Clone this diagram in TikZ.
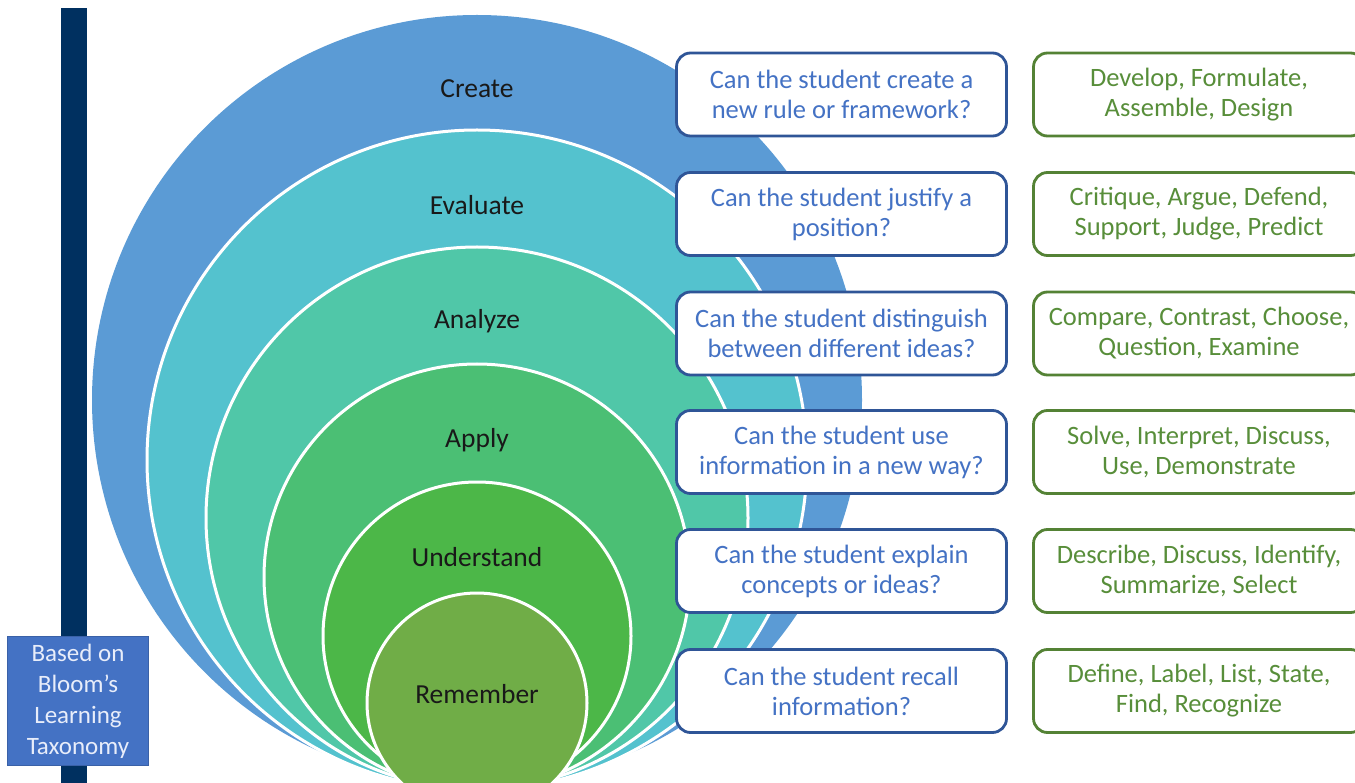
\documentclass[tikz,border=0pt]{standalone}
\usepackage{fontspec}
\setmainfont{Carlito}
\definecolor{navy}{RGB}{0,48,96}
\definecolor{createC}{RGB}{91,155,213}
\definecolor{evalC}{RGB}{84,194,206}
\definecolor{analyzeC}{RGB}{80,199,168}
\definecolor{applyC}{RGB}{75,191,116}
\definecolor{underC}{RGB}{76,183,72}
\definecolor{rememC}{RGB}{112,173,71}
\definecolor{qborder}{RGB}{47,85,151}
\definecolor{qtext}{RGB}{68,114,196}
\definecolor{vborder}{RGB}{84,130,53}
\definecolor{vtext}{RGB}{88,142,58}
\definecolor{basefill}{RGB}{68,114,196}
\definecolor{basetext}{RGB}{232,237,250}
\begin{document}
\begin{tikzpicture}[x=1pt,y=-1pt,
  ring/.style={draw=white,line width=3pt},
  lvl/.style={text=black!90,font=\fontsize{27.5}{32}\selectfont,inner sep=0pt},
  qbox/.style={draw=qborder,fill=white,line width=2.8pt,rounded corners=14pt,
    minimum width=330pt,minimum height=83pt,align=center,text=qtext,
    font=\fontsize{26.5}{30}\selectfont,inner sep=0pt},
  vbox/.style={draw=vborder,fill=white,line width=2.8pt,rounded corners=14pt,
    minimum width=331pt,minimum height=83pt,align=center,text=vtext,
    font=\fontsize{26.5}{30}\selectfont,inner sep=0pt},
  basebox/.style={draw=basefill!85!black,fill=basefill,line width=0.6pt,
    minimum width=141pt,minimum height=129pt,align=center,text=basetext,
    font=\fontsize{25}{31}\selectfont,inner sep=0pt}]
\useasboundingbox (0,0) rectangle (1355,783);
\clip (0,0) rectangle (1355,783);
% vertical bar
\fill[navy] (61,8) rectangle (87,790);
% nested circles
\fill[createC] (477,400) circle[radius=385];
\filldraw[fill=evalC,ring] (477,460) circle[radius=330];
\filldraw[fill=analyzeC,ring] (477,518) circle[radius=271];
\filldraw[fill=applyC,ring] (477,577) circle[radius=213];
\filldraw[fill=underC,ring] (477,636) circle[radius=154];
\filldraw[fill=rememC,ring] (477,703) circle[radius=110];
% level labels
\node[lvl] (l1) at (477,89) {Create};
\node[lvl] (l2) at (477,205) {Evaluate};
\node[lvl] (l3) at (477,321) {Analyze};
\node[lvl] (l4) at (477,440) {Apply};
\node[lvl] (l5) at (477,557) {Understand};
\node[lvl] (l6) at (477,694) {Remember};
% question boxes
\node[qbox] (q1) at (841.5,94.5) {Can the student create a\\new rule or framework?};
\node[qbox] (q2) at (841.5,214) {Can the student justify a\\position?};
\node[qbox] (q3) at (841.5,333.5) {Can the student distinguish\\between different ideas?};
\node[qbox] (q4) at (841.5,452) {Can the student use\\information in a new way?};
\node[qbox] (q5) at (841.5,571) {Can the student explain\\concepts or ideas?};
\node[qbox] (q6) at (841.5,691) {Can the student recall\\information?};
% verb boxes
\node[vbox] (v1) at (1199,94.5) {Develop, Formulate,\\Assemble, Design};
\node[vbox] (v2) at (1199,214) {Critique, Argue, Defend,\\Support, Judge, Predict};
\node[vbox] (v3) at (1199,333.5) {Compare, Contrast, Choose,\\Question, Examine};
\node[vbox] (v4) at (1199,452) {Solve, Interpret, Discuss,\\Use, Demonstrate};
\node[vbox] (v5) at (1199,571) {Describe, Discuss, Identify,\\Summarize, Select};
\node[vbox] (v6) at (1199,691) {Define, Label, List, State,\\Find, Recognize};
% source box
\node[basebox] (base) at (78,701) {Based on\\Bloom’s\\Learning\\Taxonomy};
\end{tikzpicture}
\end{document}
